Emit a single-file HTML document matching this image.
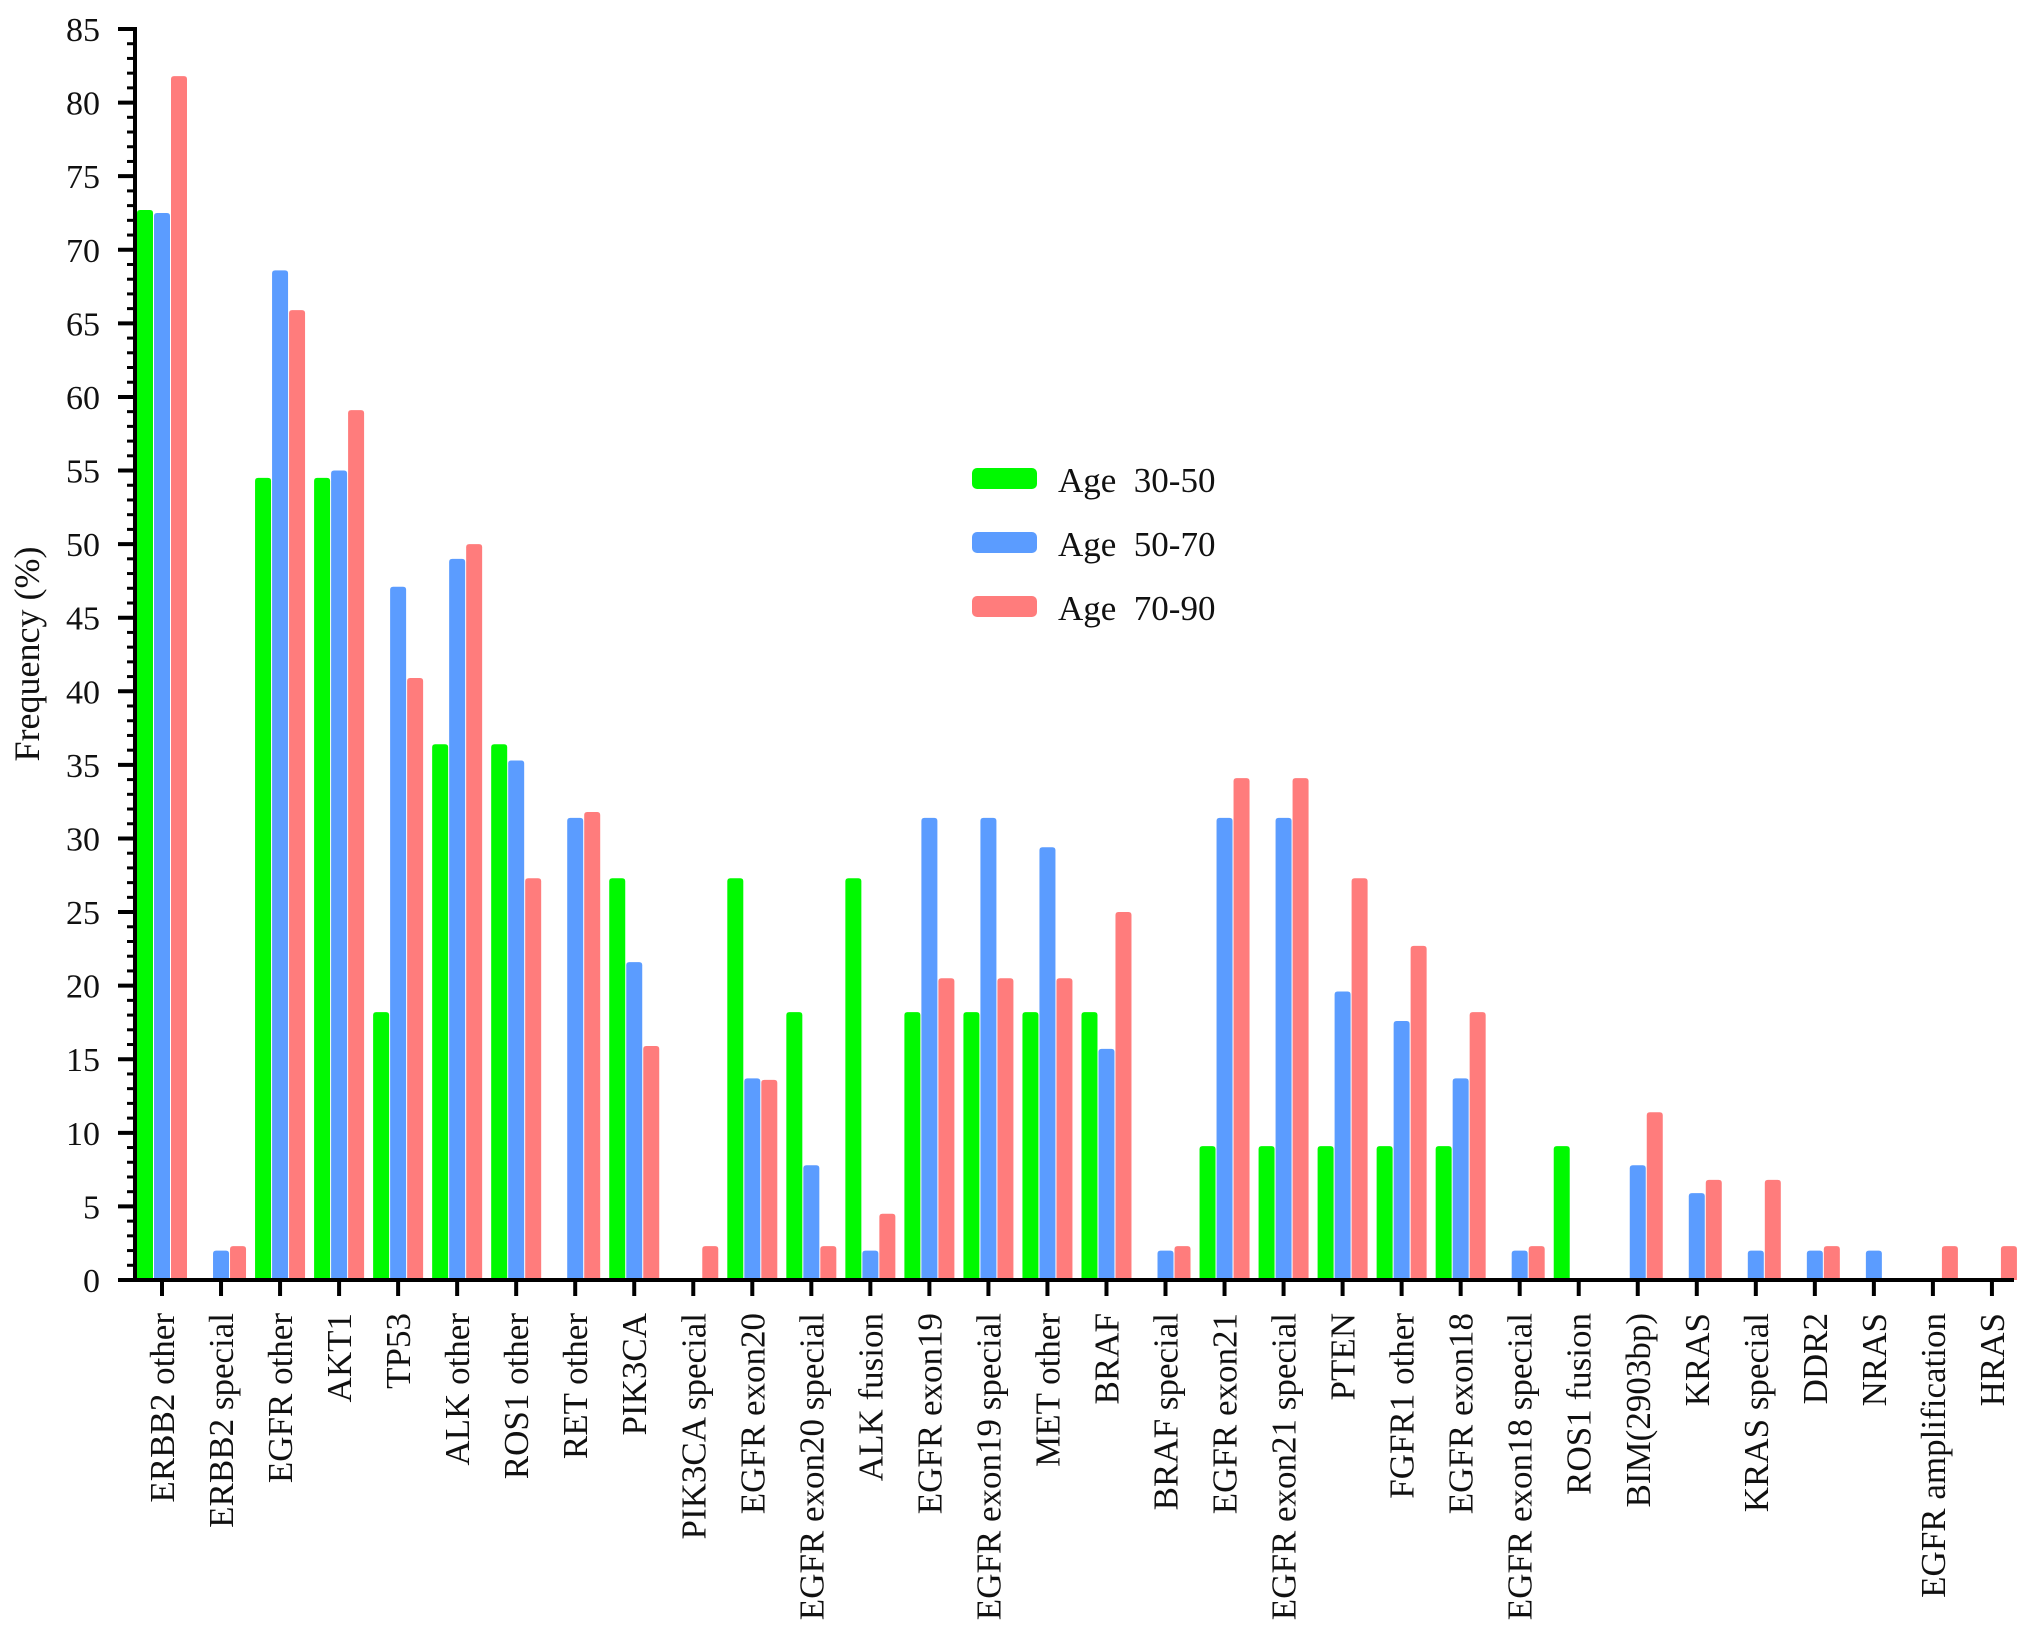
<!DOCTYPE html>
<html><head><meta charset="utf-8"><style>
html,body{margin:0;padding:0;background:#fff}
svg{display:block}
text{font-family:"Liberation Serif",serif;fill:#111;white-space:pre}
</style></head><body>
<svg id="chart" width="2031" height="1637" viewBox="0 0 2031 1637" xmlns="http://www.w3.org/2000/svg">
<g id="bars"></g>
<g id="axes"></g>
<text x="0" y="0" font-size="36" text-anchor="middle" transform="translate(39,654) rotate(-90)">Frequency (%)</text>
<g>
<g><rect x="972" y="468" width="65" height="21" rx="5" fill="#00f900"/><text x="1058" y="492" font-size="35" xml:space="preserve">Age  30-50</text></g>
<g><rect x="972" y="532" width="65" height="21" rx="5" fill="#5b9cff"/><text x="1058" y="556" font-size="35" xml:space="preserve">Age  50-70</text></g>
<g><rect x="972" y="596" width="65" height="21" rx="5" fill="#ff7c7c"/><text x="1058" y="620" font-size="35" xml:space="preserve">Age  70-90</text></g>
</g>
</svg>
<script>
const categories=["ERBB2 other","ERBB2 special","EGFR other","AKT1","TP53","ALK other","ROS1 other","RET other","PIK3CA","PIK3CA special","EGFR exon20","EGFR exon20 special","ALK fusion","EGFR exon19","EGFR exon19 special","MET other","BRAF","BRAF special","EGFR exon21","EGFR exon21 special","PTEN","FGFR1 other","EGFR exon18","EGFR exon18 special","ROS1 fusion","BIM(2903bp)","KRAS","KRAS special","DDR2","NRAS","EGFR amplification","HRAS"];
const age3050=[72.7,0,54.5,54.5,18.2,36.4,36.4,0,27.3,0,27.3,18.2,27.3,18.2,18.2,18.2,18.2,0,9.1,9.1,9.1,9.1,9.1,0,9.1,0,0,0,0,0,0,0];
const age5070=[72.5,2,68.6,55,47.1,49,35.3,31.4,21.6,0,13.7,7.8,2,31.4,31.4,29.4,15.7,2,31.4,31.4,19.6,17.6,13.7,2,0,7.8,5.9,2,2,2,0,0];
const age7090=[81.8,2.3,65.9,59.1,40.9,50,27.3,31.8,15.9,2.3,13.6,2.3,4.5,20.5,20.5,20.5,25,2.3,34.1,34.1,27.3,22.7,18.2,2.3,0,11.4,6.8,6.8,2.3,0,2.3,2.3];
const yTicks=[0,5,10,15,20,25,30,35,40,45,50,55,60,65,70,75,80,85];
const NS='http://www.w3.org/2000/svg';
const y0=1280,yTop=29,yMax=85,xAxis=135,xFirst=162,step=59.03;
function yScale(v){return y0-(v/yMax)*(y0-yTop);}
function xScale(i){return xFirst+i*step;}
function mk(tag,attrs,parent){const e=document.createElementNS(NS,tag);for(const k in attrs)e.setAttribute(k,attrs[k]);parent.appendChild(e);return e;}
const bars=document.getElementById('bars'),axes=document.getElementById('axes');
const series=[{d:age3050,c:'#00f900',off:-17,n:'age-30-50'},{d:age5070,c:'#5b9cff',off:0,n:'age-50-70'},{d:age7090,c:'#ff7c7c',off:17,n:'age-70-90'}];
series.forEach(s=>{s.d.forEach((v,i)=>{if(v<=0)return;const cx=xScale(i)+s.off;const yt=yScale(v);
const p=mk('path',{d:`M${cx-8},${y0} L${cx-8},${yt+3} Q${cx-8},${yt} ${cx-5},${yt} L${cx+5},${yt} Q${cx+8},${yt} ${cx+8},${yt+3} L${cx+8},${y0} Z`,fill:s.c},bars);

});});
mk('line',{x1:xAxis,y1:yTop-2,x2:xAxis,y2:y0+2,stroke:'#000','stroke-width':4},axes);
for(let v=0;v<=yMax;v++){const y=yScale(v);const major=v%5===0;mk('line',{x1:major?118:127,y1:y,x2:xAxis,y2:y,stroke:'#000','stroke-width':major?4:3},axes);}
yTicks.forEach(v=>{const t=mk('text',{x:100,y:yScale(v)+12,'font-size':34,'text-anchor':'end'},axes);t.textContent=v;

});
mk('line',{x1:xAxis-2,y1:y0,x2:2014,y2:y0,stroke:'#000','stroke-width':4},axes);
categories.forEach((c,i)=>{const x=xScale(i);mk('line',{x1:x,y1:y0,x2:x,y2:y0+16,stroke:'#000','stroke-width':4},axes);
const t=mk('text',{x:0,y:0,'font-size':35,'text-anchor':'end',transform:`translate(${x+12},1313) rotate(-90)`},axes);t.textContent=c;

});
</script>
</body></html>
